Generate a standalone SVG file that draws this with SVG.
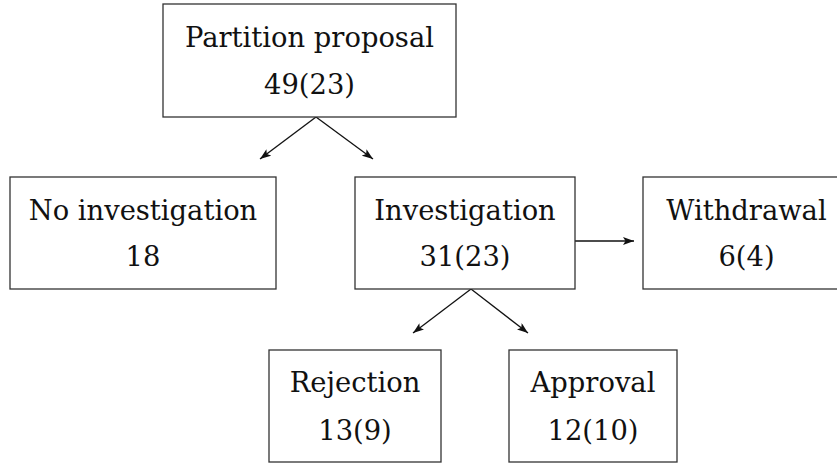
<svg xmlns="http://www.w3.org/2000/svg" width="837" height="463" viewBox="0 0 837 463">
<style>
.box{fill:#fff;stroke:#333;stroke-width:1.3}
.t{font-family:'DejaVu Serif',serif;font-size:28.5px;fill:#111;text-anchor:middle}
.c{stroke:#111;stroke-width:1.3;fill:none;marker-end:url(#ah)}
</style>
<defs>
<marker id="ah" viewBox="0 0 11 8" refX="11" refY="4" markerWidth="11" markerHeight="8" markerUnits="userSpaceOnUse" orient="auto">
<path d="M0,0 L11,4 L0,8 L2.5,4 Z" fill="#111"/>
</marker>
</defs>
<rect width="837" height="463" fill="#fff"/>
<g id="connectors">
<line class="c" x1="316" y1="117" x2="260" y2="159"/>
<line class="c" x1="316" y1="117" x2="373" y2="159"/>
<line class="c" x1="575" y1="241" x2="634" y2="241"/>
<line class="c" x1="471" y1="289" x2="413" y2="333"/>
<line class="c" x1="471" y1="289" x2="528" y2="333"/>
</g>
<g id="partition">
<rect class="box" x="163" y="4" width="293" height="113"/>
<text class="t" transform="translate(309.5 47) scale(0.96 1)">Partition proposal</text>
<text class="t" transform="translate(309.5 94) scale(0.96 1)">49(23)</text>
</g>
<g id="no-investigation">
<rect class="box" x="10" y="177" width="266" height="112"/>
<text class="t" transform="translate(143 220) scale(0.96 1)">No investigation</text>
<text class="t" transform="translate(143 266) scale(0.96 1)">18</text>
</g>
<g id="investigation">
<rect class="box" x="355" y="177" width="220" height="112"/>
<text class="t" transform="translate(465 220) scale(0.96 1)">Investigation</text>
<text class="t" transform="translate(465 266) scale(0.96 1)">31(23)</text>
</g>
<g id="withdrawal">
<rect class="box" x="643" y="177" width="207" height="112"/>
<text class="t" transform="translate(746.5 220) scale(0.96 1)">Withdrawal</text>
<text class="t" transform="translate(746.5 266) scale(0.96 1)">6(4)</text>
</g>
<g id="rejection">
<rect class="box" x="269" y="350" width="172" height="112"/>
<text class="t" transform="translate(355 392) scale(0.96 1)">Rejection</text>
<text class="t" transform="translate(355 440) scale(0.96 1)">13(9)</text>
</g>
<g id="approval">
<rect class="box" x="509" y="350" width="168" height="112"/>
<text class="t" transform="translate(593 392) scale(0.96 1)">Approval</text>
<text class="t" transform="translate(593 440) scale(0.96 1)">12(10)</text>
</g>
</svg>
